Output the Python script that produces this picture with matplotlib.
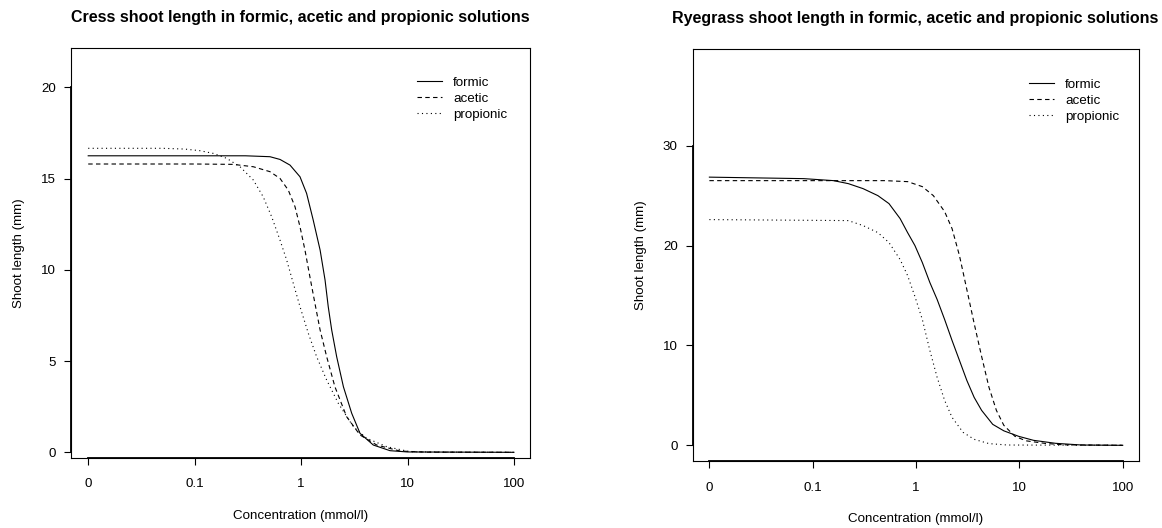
import matplotlib
matplotlib.use("Agg")
import matplotlib.pyplot as plt

plt.rcParams["font.family"] = ["Liberation Sans", "DejaVu Sans"]

# concentrations (mmol/l); 0.01 stands for the control ("0")
tick_pos = [0.01, 0.1, 1, 10, 100]
tick_lab = ["0", "0.1", "1", "10", "100"]
acids = ["formic", "acetic", "propionic"]

# cress curves
cress_formic_x = [0.01, 0.1, 0.3, 0.51, 0.634, 0.787, 0.977, 1.127, 1.30, 1.51, 1.68, 1.80, 1.94, 2.16, 2.50, 2.99, 3.58, 4.77, 6.85, 10, 100]
cress_formic_y = [16.25, 16.25, 16.25, 16.2, 16.05, 15.74, 15.1, 14.19, 12.73, 11.08, 9.44, 7.98, 6.70, 5.24, 3.59, 2.14, 1.04, 0.40, 0.09, 0.02, 0.0]
cress_acetic_x = [0.01, 0.1, 0.23, 0.356, 0.51, 0.634, 0.758, 0.877, 0.977, 1.088, 1.21, 1.35, 1.51, 1.74, 2.08, 2.68, 3.58, 5.14, 8.5, 15, 100]
cress_acetic_y = [15.8, 15.8, 15.78, 15.65, 15.38, 15.01, 14.37, 13.46, 12.36, 11.08, 9.62, 8.16, 6.70, 5.24, 3.59, 1.95, 0.95, 0.40, 0.07, 0.01, 0.0]
cress_propionic_x = [0.01, 0.05, 0.08, 0.112, 0.150, 0.200, 0.267, 0.356, 0.441, 0.530, 0.634, 0.732, 0.845, 0.977, 1.17, 1.40, 1.74, 2.24, 3.10, 4.14, 6.38, 10.6, 25, 100]
cress_propionic_y = [16.66, 16.66, 16.62, 16.53, 16.38, 16.11, 15.65, 14.92, 14.0, 12.9, 11.63, 10.54, 9.26, 7.98, 6.52, 5.24, 3.96, 2.68, 1.40, 0.77, 0.31, 0.03, 0.01, 0.0]

# ryegrass curves
rye_formic_x = [0.01, 0.082, 0.159, 0.221, 0.307, 0.427, 0.547, 0.701, 0.828, 0.975, 1.15, 1.36, 1.60, 1.89, 2.23, 2.63, 3.10, 3.65, 4.31, 5.52, 7.07, 9.84, 13.7, 22.4, 40, 100]
rye_formic_y = [26.85, 26.7, 26.5, 26.2, 25.7, 25.0, 24.2, 22.7, 21.3, 20.0, 18.3, 16.3, 14.6, 12.6, 10.5, 8.5, 6.5, 4.8, 3.5, 2.1, 1.45, 0.9, 0.5, 0.2, 0.03, 0.0]
rye_acetic_x = [0.01, 0.5, 0.83, 1.15, 1.47, 1.89, 2.23, 2.63, 3.10, 3.65, 4.31, 5.08, 5.99, 7.07, 9.06, 11.6, 17.5, 26.5, 100]
rye_acetic_y = [26.5, 26.5, 26.4, 25.9, 25.0, 23.4, 21.7, 19.0, 15.6, 12.2, 8.9, 5.8, 3.5, 2.0, 0.9, 0.45, 0.2, 0.05, 0.0]
rye_propionic_x = [0.01, 0.221, 0.307, 0.427, 0.547, 0.701, 0.828, 0.975, 1.15, 1.36, 1.60, 1.89, 2.23, 2.85, 3.65, 5.08, 7.67, 100]
rye_propionic_y = [22.6, 22.5, 22.0, 21.3, 20.3, 18.6, 17.0, 14.9, 12.6, 9.5, 6.8, 4.5, 2.8, 1.3, 0.6, 0.17, 0.03, 0.0]

styles = ["-", (0, (4, 3)), (0, (1, 3))]

fig = plt.figure(figsize=(11.62, 5.28), dpi=100)
ax1 = fig.add_axes([0.0611, 0.1331, 0.3953, 0.7754])
ax2 = fig.add_axes([0.5961, 0.1269, 0.3838, 0.7803])

panels = [
    (ax1, "Cress", [(cress_formic_x, cress_formic_y), (cress_acetic_x, cress_acetic_y),
                    (cress_propionic_x, cress_propionic_y)],
     (-0.296, 22.14), [0, 5, 10, 15, 20], (0.754, 0.931)),
    (ax2, "Ryegrass", [(rye_formic_x, rye_formic_y), (rye_acetic_x, rye_acetic_y),
                       (rye_propionic_x, rye_propionic_y)],
     (-1.57, 39.68), [0, 10, 20, 30], (0.7547, 0.9286)),
]

for ax, plant, curves, ylim, yticks, leg_pos in panels:
    for (x, y), ls, name in zip(curves, styles, acids):
        ax.plot(x, y, color="black", lw=0.8, linestyle=ls, label=name)
    ax.set_xscale("log")
    ax.set_xlim(0.00689, 142.6)
    ax.set_ylim(*ylim)
    ax.set_xticks(tick_pos)
    ax.set_xticklabels(tick_lab)
    ax.minorticks_off()
    ax.set_yticks(yticks)
    ax.tick_params(length=5.2, width=0.8, labelsize=9.6, colors="black")
    ax.tick_params(axis="x", pad=9.7)
    ax.tick_params(axis="y", pad=5.5)
    for s in ax.spines.values():
        s.set_linewidth(0.8)
    # R style axis lines running from first to last tick
    ax.plot([tick_pos[0], tick_pos[-1]], [ylim[0], ylim[0]], color="black", lw=1.3, clip_on=False)
    ax.plot([0.00689, 0.00689], [yticks[0], yticks[-1]], color="black", lw=1.3, clip_on=False)
    ax.set_xlabel("Concentration (mmol/l)", fontsize=9.6, labelpad=13.8)
    ax.set_ylabel("Shoot length (mm)", fontsize=9.6, labelpad=11.5)
    ax.set_title(plant + " shoot length in formic, acetic and propionic solutions",
                 fontsize=11.5, fontweight="bold", pad=19)
    ax.legend(loc="upper left", bbox_to_anchor=leg_pos, frameon=False, fontsize=9.6,
              handlelength=1.85, handletextpad=0.85, labelspacing=0.27,
              borderpad=0, borderaxespad=0)

fig.savefig("out.png", dpi=100)
